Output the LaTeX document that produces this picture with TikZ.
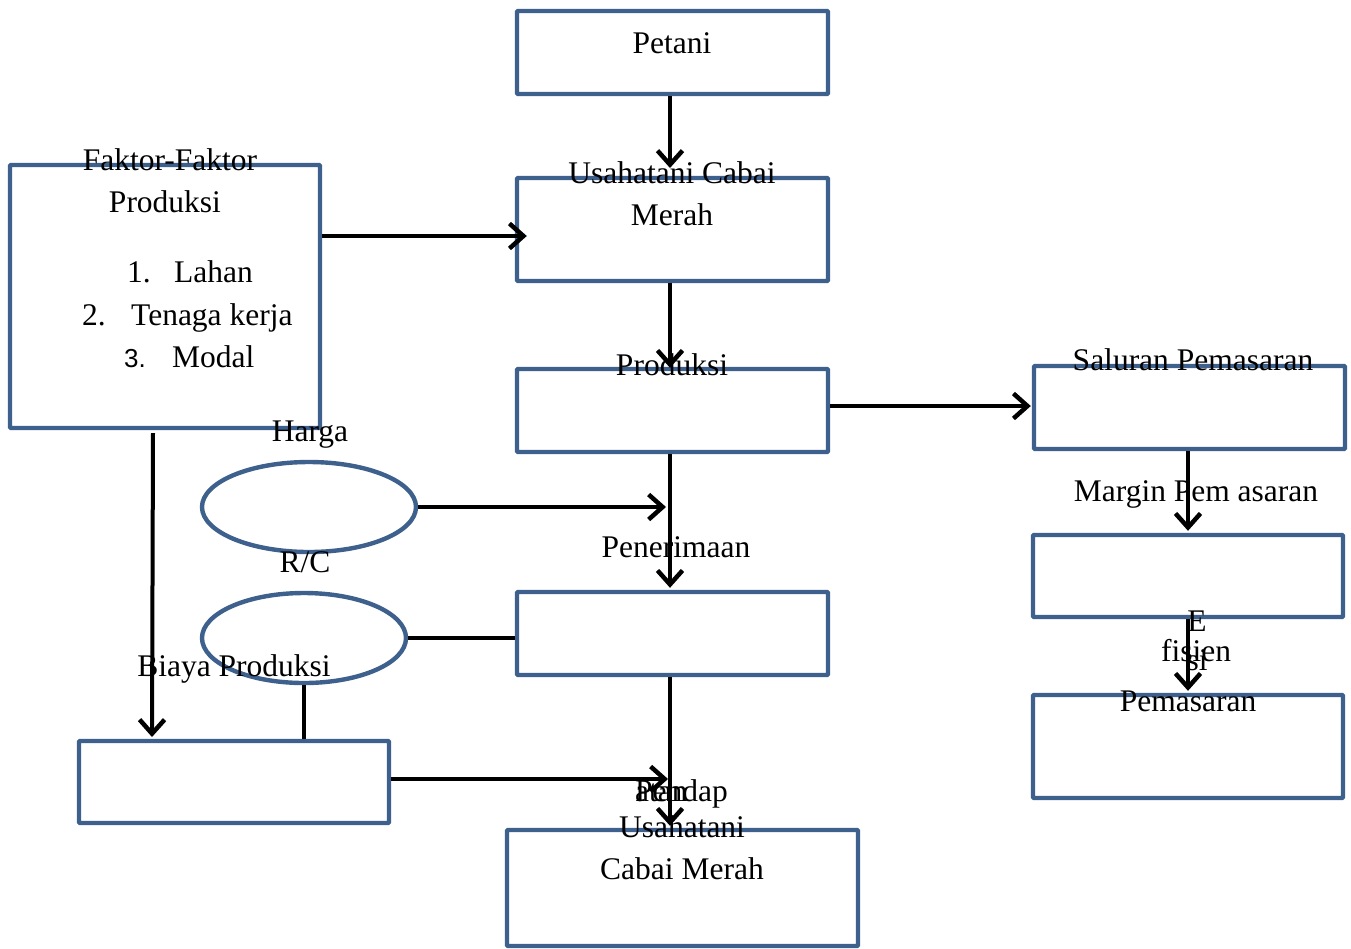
\documentclass[tikz,border=0pt]{standalone}
\usepackage{fontspec}
\setmainfont{Liberation Serif}
\newfontfamily\numsans{Liberation Sans}
\usetikzlibrary{shapes.geometric,arrows.meta,calc}
\definecolor{boxblue}{RGB}{61,96,140}
\begin{document}
\begin{tikzpicture}[x=1pt,y=-1pt,
  bx/.style={draw=boxblue,line width=4.4pt,rounded corners=1pt,rectangle,inner sep=0pt},
  ell/.style={draw=boxblue,line width=4.4pt,ellipse,inner sep=0pt},
  lbl/.style={inner sep=0pt,font=\fontsize{31.5}{42}\selectfont,text height=0.7em,text depth=0.25em},
  arr/.style={draw=black,line width=4pt,-{Straight Barb[length=14pt,width=25pt,line width=4.5pt]}},
  ln/.style={draw=black,line width=4pt}]
\useasboundingbox (0,0) rectangle (1351,948);
% boxes
\node[bx,minimum width=311pt,minimum height=83pt] (petani) at (672.5,52.5) {};
\node[bx,minimum width=311pt,minimum height=103pt] (usaha) at (672.5,229.5) {};
\node[bx,minimum width=311pt,minimum height=83pt] (prod) at (672.5,410.5) {};
\node[bx,minimum width=311pt,minimum height=83pt] (pen) at (672.5,633.5) {};
\node[bx,minimum width=351pt,minimum height=116pt] (pend) at (682.5,888) {};
\node[bx,minimum width=310pt,minimum height=263pt] (faktor) at (165,296.5) {};
\node[bx,minimum width=310pt,minimum height=82pt] (biaya) at (234,782) {};
\node[bx,minimum width=311pt,minimum height=83pt] (salur) at (1189.5,407.5) {};
\node[bx,minimum width=310pt,minimum height=82pt] (margin) at (1188,576) {};
\node[bx,minimum width=310pt,minimum height=103pt] (efis) at (1188,746.5) {};
\node[ell,minimum width=214pt,minimum height=90pt] (harga) at (309,507) {};
\node[ell,minimum width=204pt,minimum height=90pt] (rc) at (304,638) {};
% connectors
\coordinate (fb1) at (153,433);
\coordinate (fb2) at (152,737);
\coordinate (pu) at (670,168);
\draw[arr] (petani.south -| pu) -- (pu);
\draw[arr] (faktor.east |- 0,236) -- ([xshift=12pt]usaha.west |- 0,236);
\draw[arr] (usaha.south -| 670,0) -- ([yshift=-1pt]prod.north -| 670,0);
\draw[arr] (prod.east |- 0,406) -- ([xshift=-1pt]salur.west |- 0,406);
\draw[arr] (prod.south -| 670,0) -- ([yshift=2pt]pen.north -| 670,0);
\draw[arr] (harga.east) -- (666,0 |- harga.east);
\draw[ln] (rc.east) -- (rc.east -| pen.west);
\draw[ln] (rc.south) -- (rc.south |- biaya.north);
\draw[arr] (fb1) -- (fb2);
\draw[arr] (biaya.east |- 0,779) -- (668,779);
\draw[arr] (pen.south -| 670,0) -- ([yshift=2pt]pend.north -| 670,0);
\draw[arr] (salur.south -| 1188,0) -- ([yshift=2pt]margin.north);
\draw[arr] (margin.south) -- ([yshift=2pt]efis.north);
% labels
\node[lbl] (t1) at (672,51) {Petani};
\node[lbl] (t2) at (672,181) {Usahatani Cabai};
\node[lbl] (t3) at (672,223) {Merah};
\node[lbl] (t4) at (672,373) {Produksi};
\node[lbl] (t5) at (1193,368) {Saluran Pemasaran};
\node[lbl] (t6) at (1196,499) {Margin Pem asaran};
\node[lbl] (t7) at (1197,629) {E};
\node[lbl] (t8) at (1196,659) {fisien};
\node[lbl] (t9) at (1197,668) {si};
\node[lbl] (t10) at (1188,709) {Pemasaran};
\node[lbl] (t11) at (170,168) {Faktor-Faktor};
\node[lbl] (t12) at (165,210) {Produksi};
\node[lbl,anchor=west] (n1) at (127,280) {1.};
\node[lbl,anchor=west] (l1) at (174,280) {Lahan};
\node[lbl,anchor=west] (n2) at (82,323) {2.};
\node[lbl,anchor=west] (l2) at (131,323) {Tenaga kerja};
\node[lbl,anchor=west,font=\numsans\fontsize{26}{42}\selectfont] (n3) at (124,365) {3.};
\node[lbl,anchor=west] (l3) at (172,365) {Modal};
\node[lbl] (t13) at (310,439) {Harga};
\node[lbl] (t14) at (305,570) {R/C};
\node[lbl] (t15) at (676,555) {Penerimaan};
\node[lbl] (t16) at (234,674) {Biaya Produksi};
\node[lbl,anchor=west] (t17) at (635,799) {Pendap};
\node[lbl,anchor=west] (t18) at (635,799) {atan};
\node[lbl] (t19) at (682,835) {Usahatani};
\node[lbl] (t20) at (682,877) {Cabai Merah};
\end{tikzpicture}
\end{document}
